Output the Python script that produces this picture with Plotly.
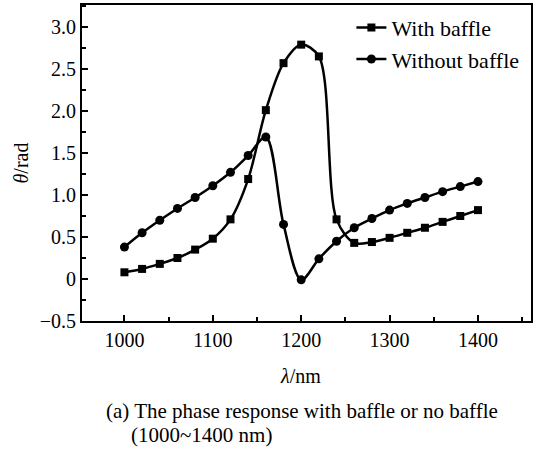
import plotly.graph_objects as go

wavelength = [1000, 1020, 1040, 1060, 1080, 1100, 1120, 1140, 1160, 1180, 1200,
              1220, 1240, 1260, 1280, 1300, 1320, 1340, 1360, 1380, 1400]
with_baffle = [0.08, 0.12, 0.18, 0.25, 0.35, 0.48, 0.71, 1.19, 2.01, 2.57, 2.79,
               2.65, 0.71, 0.43, 0.44, 0.49, 0.55, 0.61, 0.68, 0.75, 0.82]
without_baffle = [0.38, 0.55, 0.70, 0.84, 0.97, 1.11, 1.27, 1.47, 1.69, 0.65, -0.01,
                  0.24, 0.45, 0.61, 0.72, 0.82, 0.90, 0.97, 1.04, 1.10, 1.16]

x_ticks = [1000, 1100, 1200, 1300, 1400]
y_ticks = [-0.5, 0, 0.5, 1.0, 1.5, 2.0, 2.5, 3.0]
y_ticktext = ["\u22120.5", "0", "0.5", "1.0", "1.5", "2.0", "2.5", "3.0"]

FONT = "Liberation Serif"

fig = go.Figure()
fig.add_trace(go.Scatter(
    x=wavelength, y=with_baffle, name="With baffle", mode="lines+markers",
    line=dict(color="black", width=2.5, shape="spline", smoothing=0.9),
    marker=dict(symbol="square", size=8, color="black"),
))
fig.add_trace(go.Scatter(
    x=wavelength, y=without_baffle, name="Without baffle", mode="lines+markers",
    line=dict(color="black", width=2.5, shape="spline", smoothing=0.9),
    marker=dict(symbol="circle", size=9, color="black"),
))

fig.update_layout(
    width=534, height=451,
    margin=dict(l=82, r=1, t=5, b=130),
    paper_bgcolor="white", plot_bgcolor="white",
    font=dict(family=FONT, size=20, color="black"),
    showlegend=True,
    legend=dict(x=0.6, y=0.995, xanchor="left", yanchor="top",
                bgcolor="rgba(0,0,0,0)", font=dict(size=22, family=FONT),
                itemwidth=30, tracegroupgap=0),
)
fig.update_xaxes(
    range=[952, 1460], tickvals=x_ticks,
    showline=True, linecolor="black", linewidth=2, mirror=True,
    ticks="inside", ticklen=6, tickwidth=1.5, tickcolor="black",
    minor=dict(dtick=50, ticks="inside", ticklen=4, tickwidth=1.5, tickcolor="black", showgrid=False),
    showgrid=False, zeroline=False,
    tickfont=dict(size=20, family=FONT),
)
fig.update_yaxes(
    range=[-0.5, 3.262], tickvals=y_ticks, ticktext=y_ticktext,
    showline=True, linecolor="black", linewidth=2, mirror=True,
    ticks="inside", ticklen=6, tickwidth=1.5, tickcolor="black",
    minor=dict(dtick=0.25, tick0=0, ticks="inside", ticklen=4, tickwidth=1.5, tickcolor="black", showgrid=False),
    showgrid=False, zeroline=False,
    tickfont=dict(size=20, family=FONT),
    title=dict(text="<i>θ</i>/rad", font=dict(size=20, family=FONT), standoff=6),
)

fig.add_annotation(
    xref="paper", yref="paper", x=0.487, y=-0.174, xanchor="center", yanchor="middle",
    text="<i>λ</i>/nm", showarrow=False, font=dict(size=20, family=FONT),
)
fig.add_annotation(
    xref="paper", yref="paper", x=0.05, y=-0.285, xanchor="left", yanchor="middle",
    text="(a) The phase response with baffle or no baffle",
    showarrow=False, align="left", font=dict(size=21, family=FONT),
)
fig.add_annotation(
    xref="paper", yref="paper", x=0.105, y=-0.361, xanchor="left", yanchor="middle",
    text="(1000~1400 nm)",
    showarrow=False, align="left", font=dict(size=21, family=FONT),
)

fig.write_html("out.html")
